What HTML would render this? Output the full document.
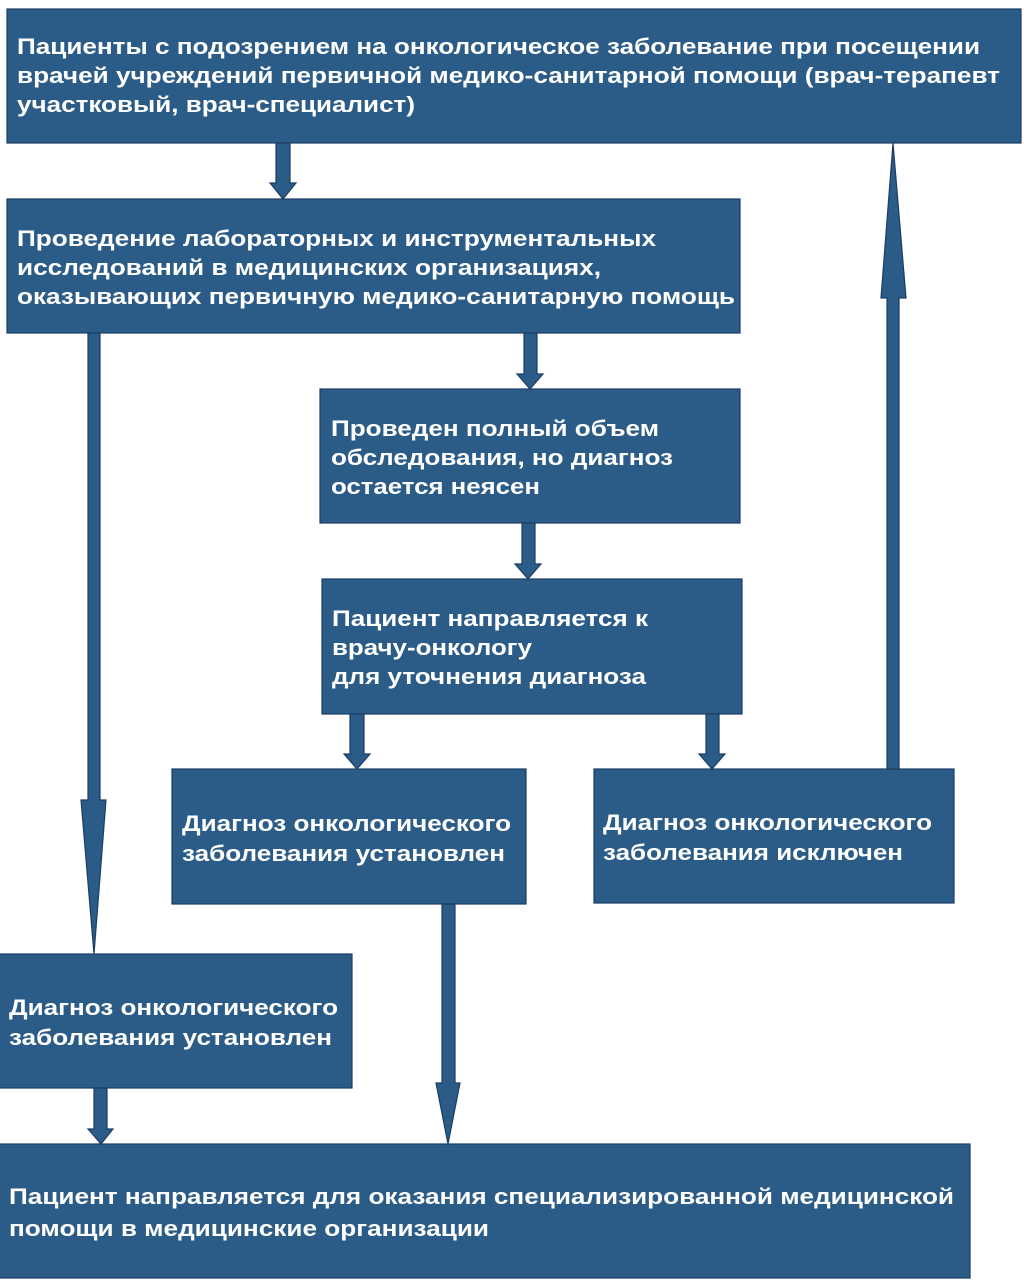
<!DOCTYPE html>
<html><head><meta charset="utf-8"><style>
html,body{margin:0;padding:0;background:#fff;width:1024px;height:1285px;overflow:hidden}
svg text{font-family:"Liberation Sans",sans-serif;font-weight:bold;font-size:22.5px;fill:#fff}
</style></head><body>
<svg width="1024" height="1285" viewBox="0 0 1024 1285" xmlns="http://www.w3.org/2000/svg">
<g fill="#2b5c87" stroke="#1b3d63" stroke-width="1.2">
<rect x="7" y="9" width="1014" height="134"/>
<rect x="7" y="199" width="733" height="134"/>
<rect x="320" y="389" width="420" height="134"/>
<rect x="322" y="579" width="420" height="135"/>
<rect x="172" y="769" width="354" height="135"/>
<rect x="594" y="769" width="360" height="134"/>
<rect x="-1" y="954" width="353" height="134"/>
<rect x="-1" y="1144" width="971" height="134"/>
<polygon points="276,143 290,143 290,183 296,183 283,199 270,183 276,183"/>
<polygon points="524,333 537,333 537,374 543,374 530,389 517,374 524,374"/>
<polygon points="522,523 535,523 535,564 541,564 528,579 515,564 522,564"/>
<polygon points="350,714 364,714 364,754 370,754 357,769 344,754 350,754"/>
<polygon points="706,714 719,714 719,754 725,754 712,769 699,754 706,754"/>
<polygon points="88,333 100,333 100,800 106,800 94,954 81,800 88,800"/>
<polygon points="442,904 455,904 455,1083 460,1083 448,1144 436,1083 442,1083"/>
<polygon points="94,1088 107,1088 107,1129 113,1129 101,1144 88,1129 94,1129"/>
<polygon points="887,769 899,769 899,298 906,298 893,143 881,298 887,298"/>
</g>
<text x="17" y="54" textLength="963" lengthAdjust="spacingAndGlyphs">Пациенты с подозрением на онкологическое заболевание при посещении</text>
<text x="17" y="83" textLength="983" lengthAdjust="spacingAndGlyphs">врачей учреждений первичной медико-санитарной помощи (врач-терапевт</text>
<text x="17" y="112" textLength="398" lengthAdjust="spacingAndGlyphs">участковый, врач-специалист)</text>
<text x="17" y="246" textLength="639" lengthAdjust="spacingAndGlyphs">Проведение лабораторных и инструментальных</text>
<text x="17" y="275" textLength="584" lengthAdjust="spacingAndGlyphs">исследований в медицинских организациях,</text>
<text x="17" y="304" textLength="718" lengthAdjust="spacingAndGlyphs">оказывающих первичную медико-санитарную помощь</text>
<text x="331" y="436" textLength="328" lengthAdjust="spacingAndGlyphs">Проведен полный объем</text>
<text x="331" y="465" textLength="342" lengthAdjust="spacingAndGlyphs">обследования, но диагноз</text>
<text x="331" y="494" textLength="209" lengthAdjust="spacingAndGlyphs">остается неясен</text>
<text x="332" y="626" textLength="316" lengthAdjust="spacingAndGlyphs">Пациент направляется к</text>
<text x="332" y="655" textLength="200" lengthAdjust="spacingAndGlyphs">врачу-онкологу</text>
<text x="332" y="684" textLength="314" lengthAdjust="spacingAndGlyphs">для уточнения диагноза</text>
<text x="182" y="831" textLength="329" lengthAdjust="spacingAndGlyphs">Диагноз онкологического</text>
<text x="182" y="861" textLength="323" lengthAdjust="spacingAndGlyphs">заболевания установлен</text>
<text x="603" y="830" textLength="329" lengthAdjust="spacingAndGlyphs">Диагноз онкологического</text>
<text x="603" y="860" textLength="300" lengthAdjust="spacingAndGlyphs">заболевания исключен</text>
<text x="9" y="1015" textLength="329" lengthAdjust="spacingAndGlyphs">Диагноз онкологического</text>
<text x="9" y="1045" textLength="323" lengthAdjust="spacingAndGlyphs">заболевания установлен</text>
<text x="9" y="1204" textLength="945" lengthAdjust="spacingAndGlyphs">Пациент направляется для оказания специализированной медицинской</text>
<text x="9" y="1236" textLength="480" lengthAdjust="spacingAndGlyphs">помощи в медицинские организации</text>
</svg>
</body></html>
